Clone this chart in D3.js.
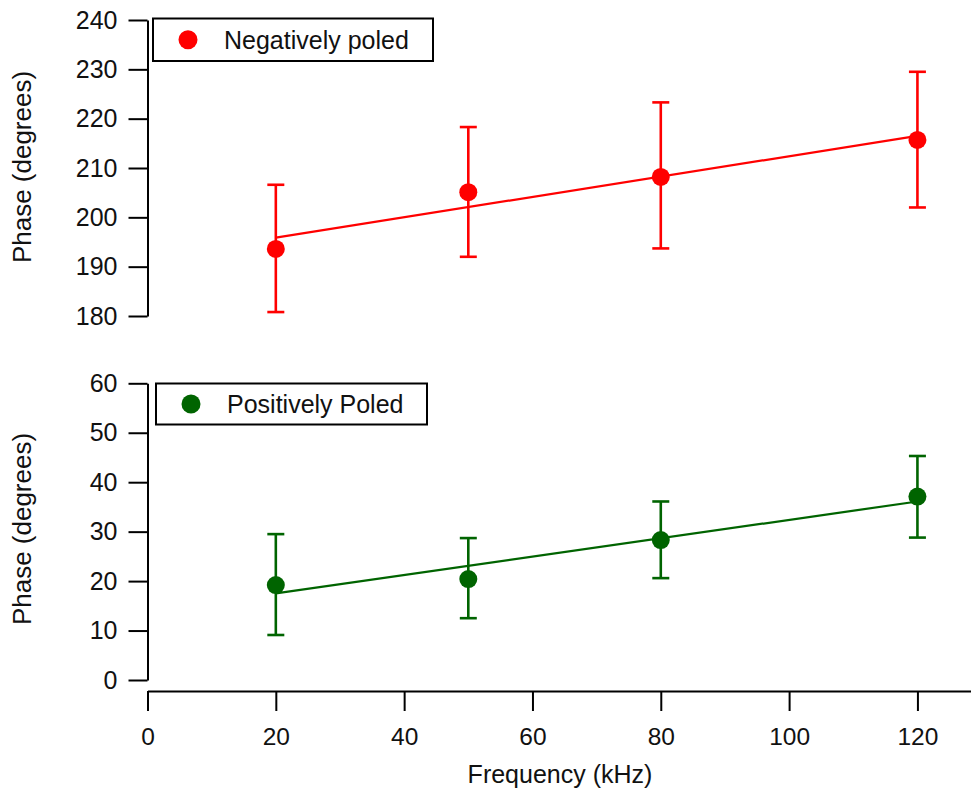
<!DOCTYPE html>
<html>
<head>
<meta charset="utf-8">
<script src="https://cdn.jsdelivr.net/npm/d3@7"></script>
<style>
  body { margin: 0; background: #fff; }
  svg { display: block; }
</style>
</head>
<body>
<div id="chart"></div>
<script>
// Data
var freq = [20, 50, 80, 120];
var xTicks = [0, 20, 40, 60, 80, 100, 120];

var negPhase = [193.6, 205.1, 208.2, 215.7];
var negLow = [180.8, 192.0, 193.7, 202.0];
var negHigh = [206.6, 218.3, 223.3, 229.5];
var negFit = [195.9, 216.5];
var negTicks = [180, 190, 200, 210, 220, 230, 240];

var posPhase = [19.2, 20.4, 28.3, 37.1];
var posLow = [9.1, 12.5, 20.6, 28.8];
var posHigh = [29.5, 28.7, 36.1, 45.3];
var posFit = [17.5, 36.1];
var posTicks = [0, 10, 20, 30, 40, 50, 60];

var fitFreq = [20, 120];

// Setting up fonts and sizes
var fontFamily = "'Liberation Sans', Arial, sans-serif";
var width = 971;
var height = 790;
var r = 9;
var capHalf = 8.5;

var svg = d3.select("#chart")
  .append("svg")
  .attr("width", width)
  .attr("height", height)
  .style("font-family", fontFamily);

// x scale shared by both panels, axis line runs to the right edge
var x = d3.scaleLinear()
  .domain([0, 128.35])
  .range([147.5, 971]);

var drawPanel = function(opts) {
  var y = d3.scaleLinear()
    .domain(opts.domain)
    .range(opts.range);

  // y axis
  var yAxis = svg.append("g")
    .attr("transform", "translate(147.5,0)")
    .call(d3.axisLeft(y)
      .tickValues(opts.ticks)
      .tickSize(19)
      .tickSizeOuter(0)
      .tickPadding(11));
  yAxis.select(".domain").attr("stroke", "#000").attr("stroke-width", 2);
  yAxis.selectAll(".tick line").attr("stroke", "#000").attr("stroke-width", 2);
  yAxis.selectAll(".tick text")
    .attr("fill", "#111")
    .style("font-size", "25px")
    .style("font-family", fontFamily);

  // y title
  svg.append("text")
    .attr("transform", "translate(31," + opts.titleY + ") rotate(-90)")
    .attr("text-anchor", "middle")
    .attr("fill", "#111")
    .style("font-size", "26px")
    .text("Phase (degrees)");

  var g = svg.append("g");

  // fit line
  var fitData = fitFreq.map(function(f, i) { return {x: f, y: opts.fit[i]}; });
  g.append("path")
    .datum(fitData)
    .attr("fill", "none")
    .attr("stroke", opts.color)
    .attr("stroke-width", 2.2)
    .attr("d", d3.line().x(function(d) { return x(d.x); }).y(function(d) { return y(d.y); }));

  var pts = freq.map(function(f, i) {
    return {x: f, y: opts.values[i], lo: opts.low[i], hi: opts.high[i]};
  });

  // error bars
  var eb = g.selectAll(".eb").data(pts).enter().append("g")
    .attr("stroke", opts.color)
    .attr("stroke-width", 2.6);
  eb.append("line")
    .attr("x1", function(d) { return x(d.x); })
    .attr("x2", function(d) { return x(d.x); })
    .attr("y1", function(d) { return y(d.lo); })
    .attr("y2", function(d) { return y(d.hi); });
  eb.append("line")
    .attr("x1", function(d) { return x(d.x) - capHalf; })
    .attr("x2", function(d) { return x(d.x) + capHalf; })
    .attr("y1", function(d) { return y(d.lo); })
    .attr("y2", function(d) { return y(d.lo); });
  eb.append("line")
    .attr("x1", function(d) { return x(d.x) - capHalf; })
    .attr("x2", function(d) { return x(d.x) + capHalf; })
    .attr("y1", function(d) { return y(d.hi); })
    .attr("y2", function(d) { return y(d.hi); });

  // markers
  g.selectAll("circle")
    .data(pts)
    .enter().append("circle")
    .attr("cx", function(d) { return x(d.x); })
    .attr("cy", function(d) { return y(d.y); })
    .attr("r", r)
    .attr("fill", opts.color);

  // legend
  var lg = svg.append("g");
  lg.append("rect")
    .attr("x", opts.legend.x)
    .attr("y", opts.legend.y)
    .attr("width", opts.legend.w)
    .attr("height", opts.legend.h)
    .attr("fill", "#fff")
    .attr("stroke", "#000")
    .attr("stroke-width", 2);
  lg.append("circle")
    .attr("cx", opts.legend.x + 35)
    .attr("cy", opts.legend.y + opts.legend.h / 2)
    .attr("r", 9.5)
    .attr("fill", opts.color);
  lg.append("text")
    .attr("x", opts.legend.x + 71)
    .attr("y", opts.legend.y + opts.legend.h / 2 + 9)
    .attr("fill", "#111")
    .style("font-size", "25px")
    .text(opts.label);
};

drawPanel({
  domain: [180, 240], range: [316, 20], ticks: negTicks,
  values: negPhase, low: negLow, high: negHigh, fit: negFit,
  color: "#ff0000", titleY: 167, label: "Negatively poled",
  legend: {x: 153, y: 18.5, w: 280, h: 42.5}
});

drawPanel({
  domain: [0, 60], range: [680, 383.3], ticks: posTicks,
  values: posPhase, low: posLow, high: posHigh, fit: posFit,
  color: "#006400", titleY: 529, label: "Positively Poled",
  legend: {x: 156, y: 383.5, w: 271, h: 41}
});

// x axis
var xAxis = svg.append("g")
  .attr("transform", "translate(0,691)")
  .call(d3.axisBottom(x)
    .tickValues(xTicks)
    .tickSize(20)
    .tickSizeOuter(0)
    .tickPadding(17));
xAxis.select(".domain").attr("stroke", "#000").attr("stroke-width", 2);
xAxis.selectAll(".tick line").attr("stroke", "#000").attr("stroke-width", 2);
xAxis.selectAll(".tick text")
  .attr("fill", "#111")
  .style("font-size", "24.5px")
  .style("font-family", fontFamily);

svg.append("text")
  .attr("x", 560)
  .attr("y", 783)
  .attr("text-anchor", "middle")
  .attr("fill", "#111")
  .style("font-size", "25px")
  .text("Frequency (kHz)");
</script>
</body>
</html>
